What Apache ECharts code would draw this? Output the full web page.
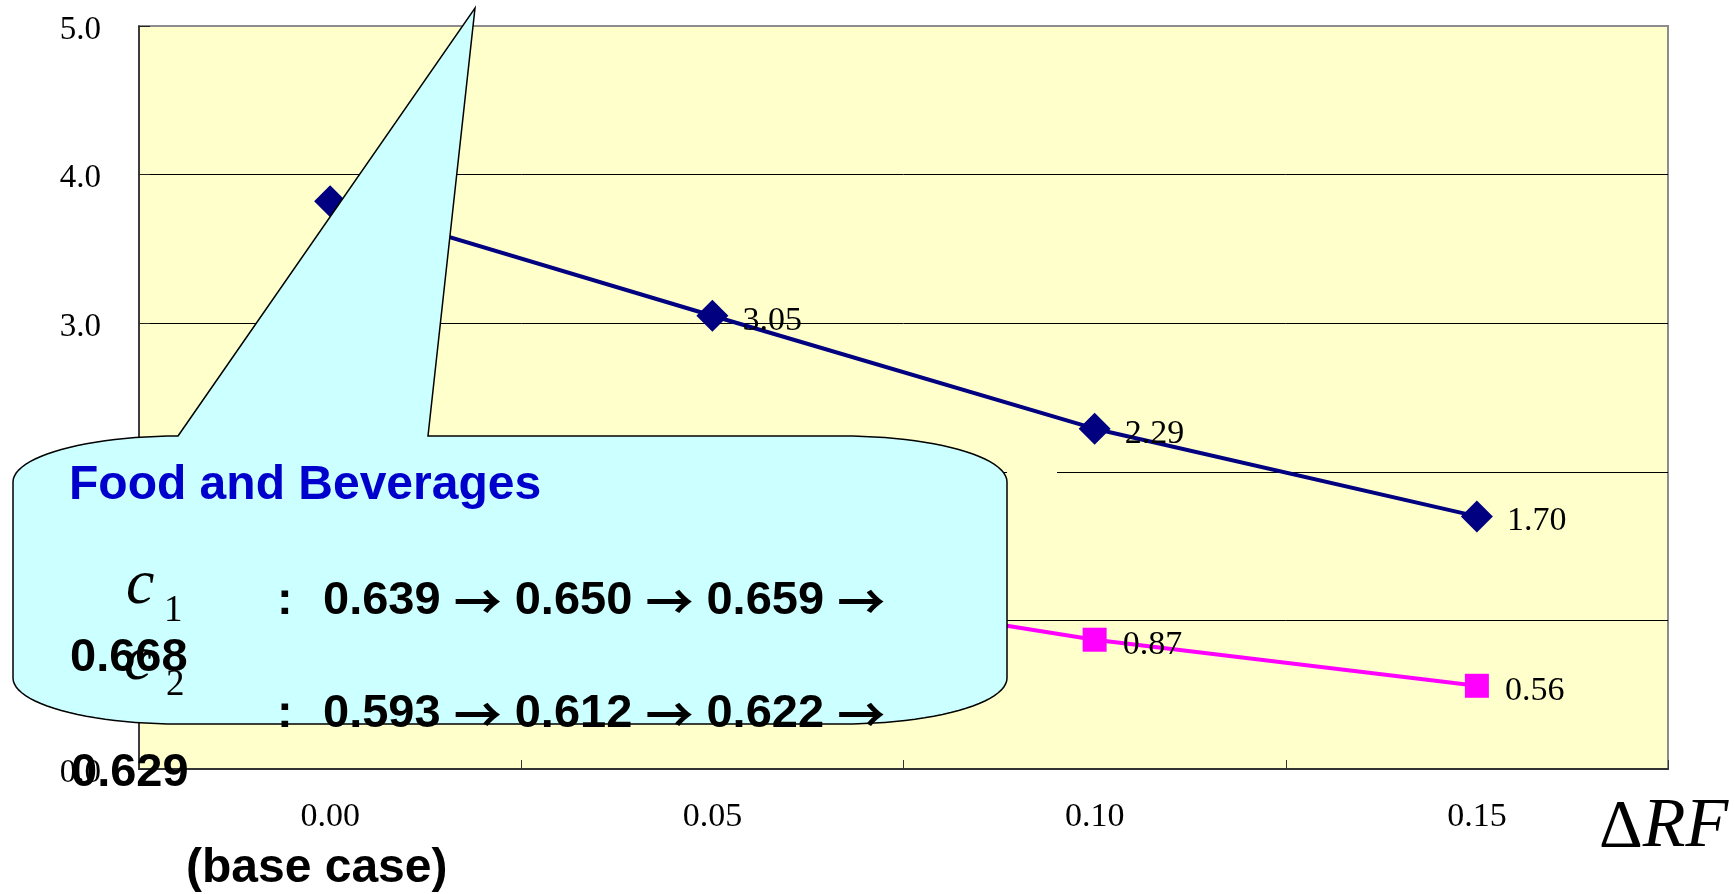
<!DOCTYPE html>
<html>
<head>
<meta charset="utf-8">
<script src="https://cdn.jsdelivr.net/npm/echarts@6/dist/echarts.min.js"></script>
<style>html,body{margin:0;padding:0;background:#fff;}#c{width:1734px;height:894px;}</style>
</head>
<body>
<div id="c"></div>
<script>
const categories = ["0.00", "0.05", "0.10", "0.15"];
const navySeries = [3.82, 3.05, 2.29, 1.70];
const magentaSeries = [1.80, 1.28, 0.87, 0.56];
const yTicks = { min: 0, max: 5, interval: 1 };
const calloutTitle = "Food and Beverages";
const c1Steps = ["0.639", "0.650", "0.659"];
const c1Last = "0.668";
const c2Steps = ["0.593", "0.612", "0.622"];
const c2Last = "0.629";

const SERIF = '"Liberation Serif", "Times New Roman", serif';
const SANS = '"Liberation Sans", Arial, sans-serif';
const CJK = '"Noto Sans CJK JP", "Noto Sans CJK SC", sans-serif';

const chart = echarts.init(document.getElementById('c'), null, { renderer: 'canvas' });

function txt(x, y, text, font, fill, z) {
  return {
    type: 'text', z: z || 110,
    style: { x: x, y: y, text: text, font: font, fill: fill || '#000',
      align: 'left', verticalAlign: 'middle', textAlign: 'left', textVerticalAlign: 'middle' }
  };
}

function stepsText(x, y, steps) {
  const parts = steps.map(s => '{n|' + s + '}{s| }{r|\u2192}{s| }');
  return {
    type: 'text', z: 110,
    style: {
      x: x, y: y, text: parts.join(''),
      align: 'left', verticalAlign: 'middle', textAlign: 'left', textVerticalAlign: 'middle',
      rich: {
        n: { fontFamily: SANS, fontWeight: 'bold', fontSize: 47, fill: '#000', color: '#000' },
        s: { fontFamily: SANS, fontWeight: 'bold', fontSize: 47, fill: '#000', color: '#000' },
        r: { fontFamily: CJK, fontWeight: 'bold', fontSize: 48, fill: '#000', color: '#000' }
      }
    }
  };
}

// callout outline: rectangle with elliptical corners and a spike
function calloutPoints() {
  const L = 13, R = 1007, T = 436, B = 724, rx = 165, ry = 46;
  const pts = [];
  function arc(cx, cy, a0, a1) {
    const n = 24;
    for (let i = 0; i <= n; i++) {
      const a = a0 + (a1 - a0) * i / n;
      pts.push([cx + rx * Math.cos(a), cy + ry * Math.sin(a)]);
    }
  }
  pts.push([L + rx, T]);
  pts.push([475, 8]);
  pts.push([428, T]);
  arc(R - rx, T + ry, -Math.PI / 2, 0);
  arc(R - rx, B - ry, 0, Math.PI / 2);
  arc(L + rx, B - ry, Math.PI / 2, Math.PI);
  arc(L + rx, T + ry, Math.PI, Math.PI * 1.5);
  return pts;
}

const labelStyle = { fontFamily: SERIF, fontSize: 34, color: '#000' };

chart.setOption({
  animation: false,
  backgroundColor: '#ffffff',
  grid: {
    left: 139, right: 66, top: 26, bottom: 125,
    show: true, backgroundColor: '#FFFFCC', borderColor: '#8c8c8c', borderWidth: 2
  },
  xAxis: {
    type: 'category',
    data: categories,
    boundaryGap: true,
    axisLine: { show: true, lineStyle: { color: '#333', width: 2 } },
    axisTick: { show: true, inside: true, length: 9, alignWithLabel: false, lineStyle: { color: '#333', width: 1 } },
    axisLabel: { margin: 31, fontFamily: SERIF, fontSize: 34, color: '#000' },
    splitLine: { show: false }
  },
  yAxis: {
    type: 'value',
    min: yTicks.min, max: yTicks.max, interval: yTicks.interval,
    axisLine: { show: true, lineStyle: { color: '#222', width: 1.5 } },
    axisTick: { show: true, inside: true, length: 11, lineStyle: { color: '#222', width: 1 } },
    axisLabel: { margin: 38, fontFamily: SERIF, fontSize: 33, color: '#000',
      formatter: v => v.toFixed(1), verticalAlign: 'top', lineHeight: 8 },
    splitLine: { show: true, showMinLine: false, showMaxLine: false, lineStyle: { color: '#000', width: 1 } }
  },
  series: [
    {
      name: 'navy', type: 'line', data: navySeries,
      symbol: 'diamond', symbolSize: 32,
      lineStyle: { color: '#000080', width: 4 },
      itemStyle: { color: '#000080' },
      label: Object.assign({ show: true, position: 'right', distance: 14, offset: [0, 5],
        formatter: p => p.value.toFixed(2) }, labelStyle),
      z: 3
    },
    {
      name: 'magenta', type: 'line', data: magentaSeries,
      symbol: 'rect', symbolSize: 24,
      lineStyle: { color: '#FF00FF', width: 4 },
      itemStyle: { color: '#FF00FF' },
      label: Object.assign({ show: true, position: 'right', distance: 16, offset: [0, 5],
        formatter: p => p.value.toFixed(2) }, labelStyle),
      z: 3
    }
  ],
  graphic: [
    { type: 'rect', z: 99, shape: { x: 1007, y: 470, width: 50, height: 6 }, style: { fill: '#FFFFCC' } },
    { type: 'polygon', z: 100, shape: { points: calloutPoints() },
      style: { fill: '#CCFFFF', stroke: '#000', lineWidth: 1.5 } },
    txt(69, 486, calloutTitle, 'bold 48px ' + SANS, '#0000CC'),
    txt(126, 586, 'c', 'italic 64px ' + SERIF, '#000'),
    txt(164, 611, '1', '37px ' + SERIF, '#000'),
    txt(277, 601, ':', 'bold 47px ' + SANS, '#000'),
    stepsText(323, 601, c1Steps),
    txt(70, 658, c1Last, 'bold 47px ' + SANS, '#000'),
    txt(124, 662, 'c', 'italic 64px ' + SERIF, '#000'),
    txt(166, 685, '2', '37px ' + SERIF, '#000'),
    txt(277, 714, ':', 'bold 47px ' + SANS, '#000'),
    stepsText(323, 714, c2Steps),
    txt(71, 773, c2Last, 'bold 47px ' + SANS, '#000'),
    txt(186, 869, '(base case)', 'bold 48px ' + SANS, '#000'),
    {
      type: 'text', z: 110,
      style: {
        x: 1599, y: 828, text: '{d|\u0394}{i|RF}',
        align: 'left', verticalAlign: 'middle', textAlign: 'left', textVerticalAlign: 'middle',
        rich: {
          d: { fontFamily: SERIF, fontSize: 68, fill: '#000', color: '#000' },
          i: { fontFamily: SERIF, fontSize: 70, fontStyle: 'italic', fill: '#000', color: '#000' }
        }
      }
    }
  ]
});
</script>
</body>
</html>
